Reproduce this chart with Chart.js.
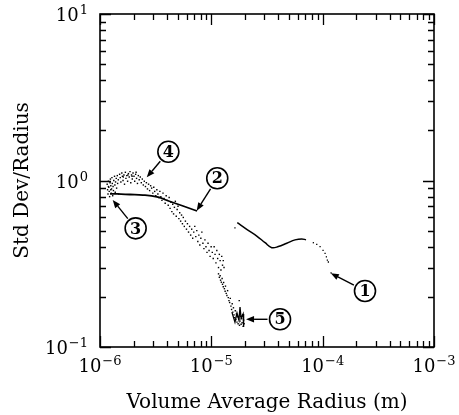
<!DOCTYPE html>
<html>
<head>
<meta charset="utf-8">
<script src="https://cdn.jsdelivr.net/npm/chart.js@4/dist/chart.umd.min.js"></script>
<style>
  body { margin: 0; background: #fff; }
</style>
</head>
<body>
<canvas id="sizeChart" width="459" height="415"></canvas>
<script>
// axis ticks
const xTickValues = [1e-6, 1e-5, 1e-4, 1e-3];
const xTickExp = ["\u22126", "\u22125", "\u22124", "\u22123"];
const yTickValues = [0.1, 1, 10];
const yTickExp = ["\u22121", "0", "1"];

// curve 2 (solid, small radii)
const line2Radius = [1.23e-6, 1.42e-6, 1.86e-6, 2.43e-6, 3.25e-6, 4.26e-6, 5.57e-6, 7.44e-6];
const line2Ratio = [0.830, 0.830, 0.824, 0.818, 0.796, 0.748, 0.703, 0.656];

// curve 1 (solid part, then dotted tail)
const line1Radius = [1.71e-5, 2.08e-5, 2.56e-5, 3.04e-5, 3.49e-5, 4.00e-5, 4.76e-5, 5.65e-5, 6.49e-5, 7.09e-5];
const line1Ratio = [0.558, 0.509, 0.464, 0.423, 0.395, 0.401, 0.420, 0.440, 0.446, 0.440];
const tailRadius = [1.63e-5, 8.25e-5, 8.85e-5, 9.48e-5, 1.008e-4, 1.051e-4, 1.080e-4, 1.102e-4, 1.125e-4, 1.190e-4];
const tailRatio = [0.519, 0.423, 0.414, 0.401, 0.380, 0.365, 0.348, 0.333, 0.324, 0.279];

// jagged end of the scattered data (5)
const endRadius = [1.53e-5, 1.63e-5, 1.70e-5, 1.77e-5, 1.81e-5, 1.85e-5, 1.93e-5, 1.95e-5];
const endRatio = [0.162, 0.141, 0.160, 0.145, 0.174, 0.149, 0.158, 0.132];

// scattered points (4 -> 5): [radius, std dev / radius]
const cloudPoints = [
  [1.16e-6, 0.95], [1.17e-6, 0.88], [1.18e-6, 0.83], [1.19e-6, 0.99], [1.20e-6, 0.91],
  [1.21e-6, 0.86], [1.22e-6, 0.80], [1.23e-6, 0.97], [1.24e-6, 1.02], [1.25e-6, 0.93],
  [1.26e-6, 0.84], [1.27e-6, 0.89], [1.28e-6, 1.04], [1.29e-6, 0.96], [1.30e-6, 0.81],
  [1.31e-6, 0.92], [1.32e-6, 0.87], [1.33e-6, 1.00], [1.35e-6, 1.06], [1.36e-6, 0.94],
  [1.37e-6, 0.85], [1.38e-6, 0.98], [1.40e-6, 1.03], [1.41e-6, 0.90], [1.43e-6, 1.07],
  [1.44e-6, 0.96], [1.46e-6, 1.01], [1.47e-6, 0.83], [1.19e-6, 0.92], [1.25e-6, 0.88],
  [1.50e-6, 1.09], [1.52e-6, 1.04], [1.54e-6, 0.98], [1.57e-6, 1.11], [1.59e-6, 1.06],
  [1.61e-6, 1.00], [1.64e-6, 1.08], [1.66e-6, 0.95], [1.69e-6, 1.12], [1.71e-6, 1.03],
  [1.74e-6, 1.07], [1.77e-6, 0.99], [1.80e-6, 1.10], [1.83e-6, 1.05], [1.86e-6, 1.13],
  [1.89e-6, 0.97], [1.92e-6, 1.08], [1.95e-6, 1.02], [1.98e-6, 1.11], [2.02e-6, 1.06],
  [2.05e-6, 0.99], [2.09e-6, 1.09], [2.13e-6, 1.03], [2.17e-6, 0.96], [2.21e-6, 1.07],
  [2.25e-6, 1.01], [2.30e-6, 1.05], [2.35e-6, 0.97], [2.40e-6, 1.02], [2.45e-6, 0.94],
  [1.62e-6, 1.05], [1.78e-6, 1.08], [1.94e-6, 1.06], [2.11e-6, 1.12],
  [2.50e-6, 0.99], [2.56e-6, 0.92], [2.61e-6, 0.97], [2.67e-6, 0.89], [2.73e-6, 0.95],
  [2.79e-6, 0.87], [2.85e-6, 0.93], [2.91e-6, 0.90], [2.98e-6, 0.84], [3.04e-6, 0.91],
  [3.10e-6, 0.86], [3.17e-6, 0.81], [3.24e-6, 0.88], [3.31e-6, 0.83], [3.38e-6, 0.79],
  [3.45e-6, 0.86], [3.52e-6, 0.80], [3.60e-6, 0.76], [3.68e-6, 0.84], [3.76e-6, 0.78],
  [3.85e-6, 0.73], [3.93e-6, 0.81],
  [4.02e-6, 0.76], [4.10e-6, 0.71], [4.18e-6, 0.79], [4.26e-6, 0.68], [4.34e-6, 0.74],
  [4.42e-6, 0.65], [4.50e-6, 0.72], [4.58e-6, 0.63], [4.66e-6, 0.69], [4.75e-6, 0.75],
  [4.84e-6, 0.61], [4.93e-6, 0.67], [5.02e-6, 0.70], [5.11e-6, 0.59], [5.20e-6, 0.64],
  [5.30e-6, 0.57], [5.40e-6, 0.62], [5.50e-6, 0.55], [5.60e-6, 0.60],
  [5.72e-6, 0.53], [5.85e-6, 0.57], [5.98e-6, 0.51], [6.10e-6, 0.55], [6.24e-6, 0.49],
  [6.38e-6, 0.53], [6.52e-6, 0.47], [6.66e-6, 0.51], [6.80e-6, 0.45], [6.95e-6, 0.49],
  [7.10e-6, 0.53], [7.25e-6, 0.46], [7.40e-6, 0.50], [7.56e-6, 0.43], [7.72e-6, 0.47],
  [7.88e-6, 0.41], [8.05e-6, 0.45], [8.22e-6, 0.49], [8.40e-6, 0.42], [8.58e-6, 0.39],
  [8.76e-6, 0.44], [8.95e-6, 0.40], [9.14e-6, 0.37], [9.34e-6, 0.42], [9.54e-6, 0.38],
  [9.75e-6, 0.35], [9.96e-6, 0.40],
  [1.02e-5, 0.37], [1.04e-5, 0.34], [1.06e-5, 0.40], [1.08e-5, 0.36], [1.10e-5, 0.32],
  [1.12e-5, 0.38], [1.14e-5, 0.34], [1.16e-5, 0.30], [1.18e-5, 0.36], [1.20e-5, 0.33],
  [1.22e-5, 0.29], [1.24e-5, 0.35], [1.26e-5, 0.31], [1.28e-5, 0.33], [1.30e-5, 0.30],
  [1.16e-5, 0.275], [1.18e-5, 0.262], [1.20e-5, 0.268], [1.21e-5, 0.252], [1.23e-5, 0.245],
  [1.25e-5, 0.258], [1.26e-5, 0.238], [1.28e-5, 0.230], [1.29e-5, 0.244], [1.31e-5, 0.224],
  [1.33e-5, 0.216], [1.34e-5, 0.232], [1.36e-5, 0.210], [1.38e-5, 0.204], [1.40e-5, 0.218],
  [1.42e-5, 0.198], [1.44e-5, 0.190],
  [1.46e-5, 0.185], [1.48e-5, 0.196], [1.50e-5, 0.176], [1.52e-5, 0.168], [1.54e-5, 0.182],
  [1.56e-5, 0.162], [1.58e-5, 0.172], [1.60e-5, 0.156], [1.62e-5, 0.150], [1.64e-5, 0.165],
  [1.66e-5, 0.146], [1.68e-5, 0.158], [1.70e-5, 0.141], [1.72e-5, 0.152], [1.74e-5, 0.138],
  [1.76e-5, 0.147], [1.78e-5, 0.190], [1.79e-5, 0.135], [1.81e-5, 0.143], [1.83e-5, 0.153],
  [1.85e-5, 0.137], [1.87e-5, 0.148], [1.89e-5, 0.140], [1.91e-5, 0.156], [1.93e-5, 0.133],
  [1.95e-5, 0.145], [1.97e-5, 0.138]
];

// numbered callouts: circle centre and arrow tip, in data units
const calloutText = ["1", "2", "3", "4", "5"];
const calloutRadius = [2.40e-4, 1.13e-5, 2.09e-6, 4.11e-6, 4.14e-5];
const calloutRatio = [0.217, 1.031, 0.516, 1.489, 0.1467];
const tipRadius = [1.183e-4, 7.39e-6, 1.30e-6, 2.63e-6, 2.05e-5];
const tipRatio = [0.277, 0.659, 0.764, 1.045, 0.1467];

const serif = '"DejaVu Serif", "Liberation Serif", serif';

const toPoints = (xs, ys) => xs.map((v, i) => ({ x: v, y: ys[i] }));

function drawPow(ctx, x, baseline, exp, align) {
  ctx.font = "18px " + serif;
  const wb = ctx.measureText("10").width;
  ctx.font = "13px " + serif;
  const we = ctx.measureText(exp).width;
  const total = wb + we + 1;
  let start = x - total / 2;
  if (align === "right") start = x - total;
  ctx.textAlign = "left";
  ctx.textBaseline = "alphabetic";
  ctx.font = "18px " + serif;
  ctx.fillText("10", start, baseline);
  ctx.font = "13px " + serif;
  ctx.fillText(exp, start + wb + 1, baseline - 7);
}

const framePlugin = {
  id: "frame",
  afterDatasetsDraw(chart) {
    const { ctx, chartArea, scales } = chart;
    const { left, right, top, bottom } = chartArea;
    const xs = scales.x;
    const ys = scales.y;
    ctx.save();
    ctx.strokeStyle = "#000";
    ctx.fillStyle = "#000";
    ctx.lineWidth = 1.6;
    ctx.strokeRect(left, top, right - left, bottom - top);

    // inward ticks on all four sides
    ctx.lineWidth = 1.3;
    const minorSteps = [2, 3, 4, 5, 6, 7, 8, 9];
    xTickValues.forEach((v, i) => {
      const px = Math.round(xs.getPixelForValue(v)) + 0.5;
      ctx.beginPath();
      ctx.moveTo(px, bottom); ctx.lineTo(px, bottom - 11);
      ctx.moveTo(px, top); ctx.lineTo(px, top + 11);
      ctx.stroke();
      if (i < xTickValues.length - 1) {
        minorSteps.forEach((m) => {
          const p = Math.round(xs.getPixelForValue(v * m)) + 0.5;
          ctx.beginPath();
          ctx.moveTo(p, bottom); ctx.lineTo(p, bottom - 6);
          ctx.moveTo(p, top); ctx.lineTo(p, top + 6);
          ctx.stroke();
        });
      }
    });
    yTickValues.forEach((v, i) => {
      const py = Math.round(ys.getPixelForValue(v)) + 0.5;
      ctx.beginPath();
      ctx.moveTo(left, py); ctx.lineTo(left + 11, py);
      ctx.moveTo(right, py); ctx.lineTo(right - 11, py);
      ctx.stroke();
      if (i < yTickValues.length - 1) {
        minorSteps.forEach((m) => {
          const p = Math.round(ys.getPixelForValue(v * m)) + 0.5;
          ctx.beginPath();
          ctx.moveTo(left, p); ctx.lineTo(left + 6, p);
          ctx.moveTo(right, p); ctx.lineTo(right - 6, p);
          ctx.stroke();
        });
      }
    });

    // tick labels
    xTickValues.forEach((v, i) => {
      drawPow(ctx, xs.getPixelForValue(v), bottom + 25, xTickExp[i], "center");
    });
    yTickValues.forEach((v, i) => {
      drawPow(ctx, left - 12, ys.getPixelForValue(v) + 7, yTickExp[i], "right");
    });

    // axis titles
    ctx.font = "20px " + serif;
    ctx.textAlign = "center";
    ctx.textBaseline = "alphabetic";
    ctx.fillText("Volume Average Radius (m)", (left + right) / 2, bottom + 61);
    ctx.save();
    ctx.translate(28, (top + bottom) / 2);
    ctx.rotate(-Math.PI / 2);
    ctx.fillText("Std Dev/Radius", 0, 0);
    ctx.restore();

    // numbered callouts with arrows
    const r = 10.5;
    calloutText.forEach((t, i) => {
      const cx = xs.getPixelForValue(calloutRadius[i]);
      const cy = ys.getPixelForValue(calloutRatio[i]);
      const tx = xs.getPixelForValue(tipRadius[i]);
      const ty = ys.getPixelForValue(tipRatio[i]);
      ctx.lineWidth = 1.6;
      ctx.beginPath();
      ctx.arc(cx, cy, r, 0, Math.PI * 2);
      ctx.stroke();
      ctx.font = "bold 16px " + serif;
      ctx.textAlign = "center";
      ctx.textBaseline = "middle";
      ctx.fillText(t, cx, cy + 1);

      const ang = Math.atan2(ty - cy, tx - cx);
      const sx = cx + Math.cos(ang) * (r + 2);
      const sy = cy + Math.sin(ang) * (r + 2);
      const head = 8;
      const bx = tx - Math.cos(ang) * head;
      const by = ty - Math.sin(ang) * head;
      ctx.lineWidth = 1.4;
      ctx.beginPath();
      ctx.moveTo(sx, sy);
      ctx.lineTo(bx, by);
      ctx.stroke();
      ctx.beginPath();
      ctx.moveTo(tx, ty);
      ctx.lineTo(bx + Math.sin(ang) * 3.2, by - Math.cos(ang) * 3.2);
      ctx.lineTo(bx - Math.sin(ang) * 3.2, by + Math.cos(ang) * 3.2);
      ctx.closePath();
      ctx.fill();
    });
    ctx.restore();
  },
};

const ctx = document.getElementById("sizeChart").getContext("2d");

new Chart(ctx, {
  type: "scatter",
  data: {
    datasets: [
      {
        label: "Curve 2",
        data: toPoints(line2Radius, line2Ratio),
        showLine: true,
        borderColor: "#000",
        borderWidth: 1.8,
        pointRadius: 0,
        tension: 0.4,
      },
      {
        label: "Curve 1",
        data: toPoints(line1Radius, line1Ratio),
        showLine: true,
        borderColor: "#000",
        borderWidth: 1.5,
        pointRadius: 0,
        tension: 0.4,
      },
      {
        label: "Curve 1 tail",
        data: toPoints(tailRadius, tailRatio),
        pointStyle: "rect",
        pointRadius: 0.9,
        backgroundColor: "#000",
        borderWidth: 0,
      },
      {
        label: "Scatter end",
        data: toPoints(endRadius, endRatio),
        showLine: true,
        borderColor: "#000",
        borderWidth: 1.3,
        pointRadius: 0,
      },
      {
        label: "Scatter",
        data: cloudPoints.map((p) => ({ x: p[0], y: p[1] })),
        pointStyle: "rect",
        pointRadius: 1,
        backgroundColor: "#000",
        borderWidth: 0,
      },
    ],
  },
  options: {
    responsive: false,
    animation: false,
    devicePixelRatio: 1,
    layout: {
      padding: { left: 0, right: 25, top: 14, bottom: 0 },
    },
    plugins: {
      legend: { display: false },
      tooltip: { enabled: false },
    },
    scales: {
      x: {
        type: "logarithmic",
        min: 1e-6,
        max: 1e-3,
        ticks: { display: false },
        grid: { display: false },
        border: { display: false },
        afterFit: (scale) => { scale.height = 68; },
      },
      y: {
        type: "logarithmic",
        min: 0.1,
        max: 10,
        ticks: { display: false },
        grid: { display: false },
        border: { display: false },
        afterFit: (scale) => { scale.width = 100; },
      },
    },
  },
  plugins: [framePlugin],
});
</script>
</body>
</html>
